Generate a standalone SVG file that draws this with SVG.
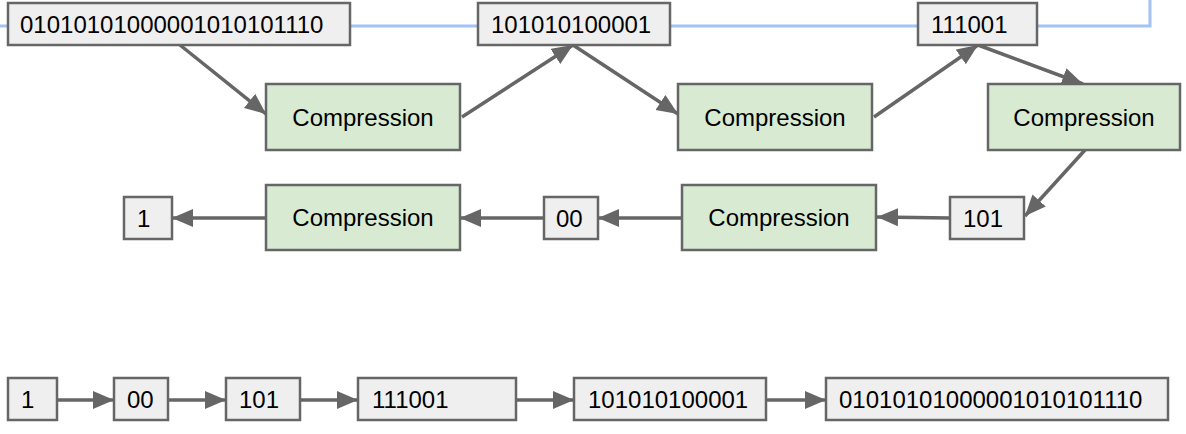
<svg xmlns="http://www.w3.org/2000/svg" width="1186" height="434" viewBox="0 0 1186 434">
<style>
.bit{fill:#efefef;stroke:#666666;stroke-width:2.5}
.cmp{fill:#d9ead3;stroke:#666666;stroke-width:2.5}
text{font-family:"Liberation Sans",Arial,sans-serif;font-size:24px;fill:#000}
.c{text-anchor:middle}
.edge{stroke:#666666;stroke-width:3.5;fill:none;marker-end:url(#ah)}
.blue{stroke:#a4c2f4;stroke-width:3;fill:none}
</style>
<defs>
<marker id="ah" markerUnits="userSpaceOnUse" markerWidth="24" markerHeight="20" refX="21" refY="9" orient="auto">
<path d="M0,0 L21,9 L0,18 Z" fill="#666666"/>
</marker>
</defs>
<path class="blue" d="M0,26 H1150 V0"/>
<g id="connectors">
<line class="edge" x1="180" y1="45" x2="266" y2="114"/>
<line class="edge" x1="462" y1="117" x2="573" y2="45"/>
<line class="edge" x1="573" y1="45" x2="678" y2="114"/>
<line class="edge" x1="874" y1="117" x2="978" y2="45"/>
<line class="edge" x1="978" y1="45" x2="1083" y2="84"/>
<line class="edge" x1="1085" y1="150" x2="1025" y2="216"/>
<line class="edge" x1="950" y1="218" x2="877" y2="217"/>
<line class="edge" x1="682" y1="218" x2="598" y2="218"/>
<line class="edge" x1="544" y1="218" x2="460" y2="218"/>
<line class="edge" x1="266" y1="218" x2="172" y2="218"/>
<line class="edge" x1="57" y1="400" x2="114" y2="400"/>
<line class="edge" x1="168" y1="400" x2="226" y2="400"/>
<line class="edge" x1="300" y1="400" x2="358" y2="400"/>
<line class="edge" x1="516" y1="400" x2="574" y2="400"/>
<line class="edge" x1="766" y1="400" x2="826" y2="400"/>
</g>
<g id="nA"><rect class="bit" x="8" y="3" width="342" height="42"/><text x="20" y="33">01010101000001010101110</text></g>
<g id="nB"><rect class="bit" x="478" y="3" width="192" height="42"/><text x="491" y="33">101010100001</text></g>
<g id="nC"><rect class="bit" x="918" y="3" width="119" height="42"/><text x="931" y="33">111001</text></g>
<g id="comp1"><rect class="cmp" x="266" y="84" width="194" height="66"/><text class="c" x="363" y="126">Compression</text></g>
<g id="comp2"><rect class="cmp" x="678" y="84" width="194" height="66"/><text class="c" x="775" y="126">Compression</text></g>
<g id="comp3"><rect class="cmp" x="988" y="84" width="192" height="66"/><text class="c" x="1084" y="126">Compression</text></g>
<g id="n101"><rect class="bit" x="950" y="197" width="74" height="42"/><text x="963" y="227">101</text></g>
<g id="comp4"><rect class="cmp" x="682" y="185" width="194" height="65"/><text class="c" x="779" y="226">Compression</text></g>
<g id="n00"><rect class="bit" x="544" y="197" width="54" height="42"/><text x="556" y="227">00</text></g>
<g id="comp5"><rect class="cmp" x="266" y="185" width="194" height="65"/><text class="c" x="363" y="226">Compression</text></g>
<g id="n1"><rect class="bit" x="124" y="197" width="48" height="42"/><text x="137" y="227">1</text></g>
<g id="b1"><rect class="bit" x="8" y="378" width="49" height="42"/><text x="21" y="408">1</text></g>
<g id="b2"><rect class="bit" x="114" y="378" width="54" height="42"/><text x="127" y="408">00</text></g>
<g id="b3"><rect class="bit" x="226" y="378" width="74" height="42"/><text x="239" y="408">101</text></g>
<g id="b4"><rect class="bit" x="358" y="378" width="158" height="42"/><text x="372" y="408">111001</text></g>
<g id="b5"><rect class="bit" x="574" y="378" width="192" height="42"/><text x="588" y="408">101010100001</text></g>
<g id="b6"><rect class="bit" x="826" y="378" width="342" height="42"/><text x="839" y="408">01010101000001010101110</text></g>
</svg>
